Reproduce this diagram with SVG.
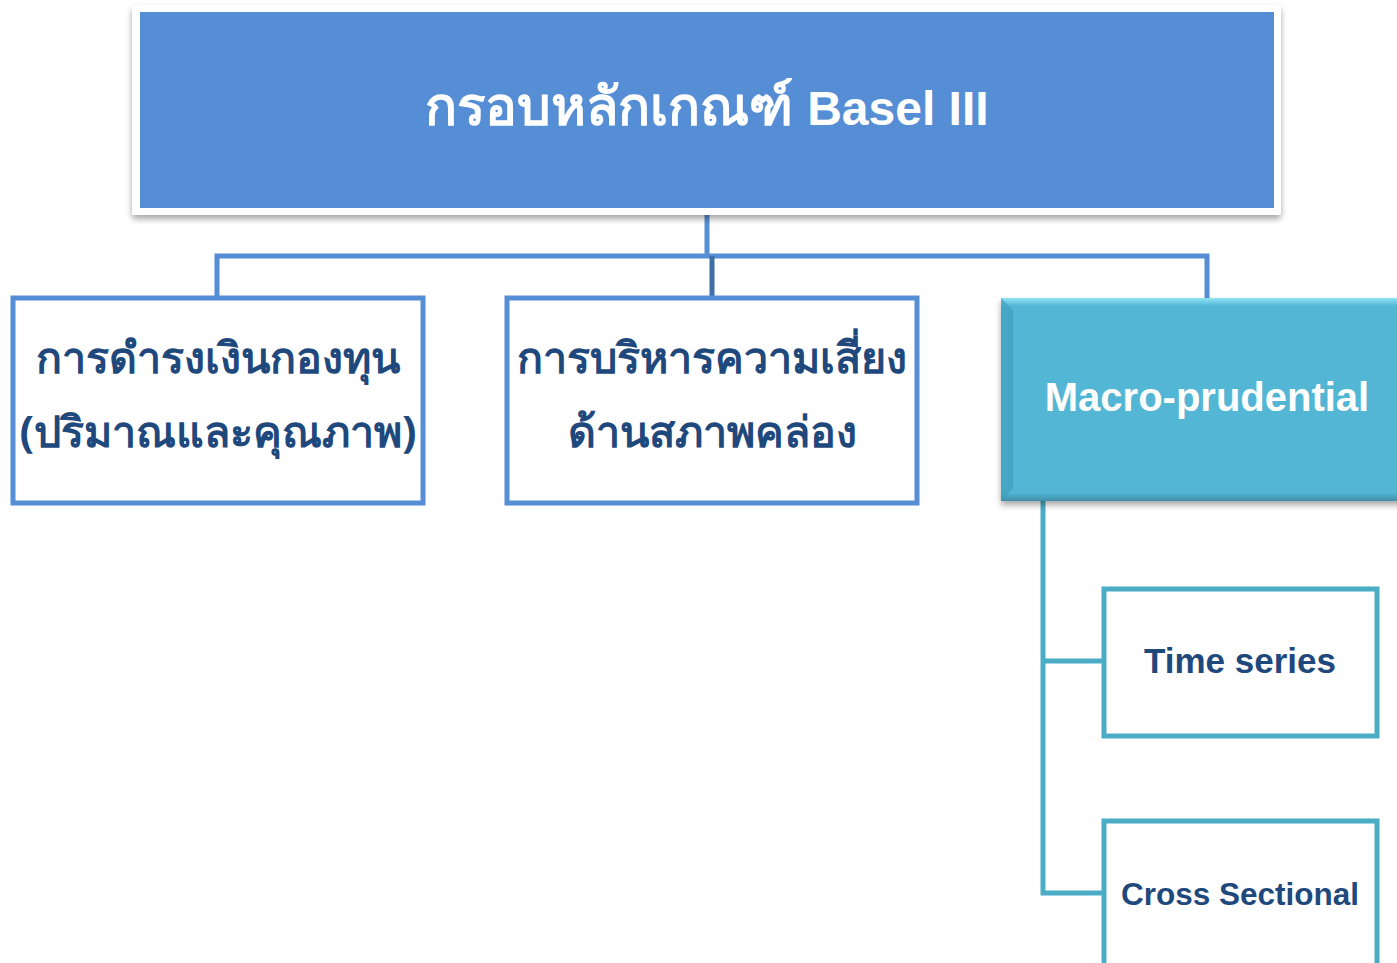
<svg xmlns="http://www.w3.org/2000/svg" width="1397" height="963" viewBox="0 0 1397 963">
<style>
.th{font-family:"Noto Sans","DejaVu Sans",sans-serif;font-weight:bold;text-anchor:middle}
.en{font-family:"Liberation Sans",Arial,sans-serif;font-weight:bold;text-anchor:middle}
.dark{fill:#1F497D}
.bluebox{fill:#fff;stroke:#558ED5;stroke-width:5}
.tealbox{fill:#fff;stroke:#4BACC6;stroke-width:5}
.bl{stroke:#558ED5;stroke-width:5;fill:none}
.tl{stroke:#4BACC6;stroke-width:5;fill:none}
</style>
<defs>
<filter id="sh" x="-5%" y="-10%" width="110%" height="130%">
<feDropShadow dx="0" dy="4" stdDeviation="3" flood-color="#000" flood-opacity="0.35"/>
</filter>
<linearGradient id="bev" x1="0" y1="0" x2="0" y2="1">
<stop offset="0" stop-color="#8FE3F5"/>
<stop offset="0.04" stop-color="#53B6D4"/>
<stop offset="0.96" stop-color="#53B6D4"/>
<stop offset="1" stop-color="#3E8EA6"/>
</linearGradient>
</defs>
<g id="connectors">
<path class="bl" d="M707 212V256M217 298V256H1207V298"/>
<path d="M712 256V298" stroke="#3F6FA8" stroke-width="5"/>
<path class="tl" d="M1043 500V893H1104M1043 661H1104"/>
</g>
<g id="root">
<rect x="132" y="5" width="1149" height="210" rx="3" fill="#fff" filter="url(#sh)"/>
<rect x="140" y="12" width="1134" height="196" fill="#558ED5"/>
<text x="707" y="125" class="th" font-size="53" fill="#fff">กรอบหลักเกณฑ์ <tspan font-family="Liberation Sans, Arial, sans-serif" font-size="48">Basel III</tspan></text>
</g>
<g id="capital">
<rect x="13" y="298" width="410" height="205" class="bluebox"/>
<text x="218" y="373" class="th dark" font-size="43">การดำรงเงินกองทุน</text>
<text x="218" y="447" class="th dark" font-size="43">(ปริมาณและคุณภาพ)</text>
</g>
<g id="liquidity">
<rect x="507" y="298" width="410" height="205" class="bluebox"/>
<text x="712" y="373" class="th dark" font-size="43">การบริหารความเสี่ยง</text>
<text x="712" y="447" class="th dark" font-size="43">ด้านสภาพคล่อง</text>
</g>
<g id="macro">
<rect x="1001" y="298" width="410" height="203" fill="url(#bev)" filter="url(#sh)"/>
<path d="M1001 298L1013 310V489L1001 501Z" fill="#3E9DB9" opacity="0.6"/>
<text x="1207" y="411" class="en" font-size="40" fill="#fff">Macro-prudential</text>
</g>
<g id="timeseries">
<rect x="1104" y="589" width="273" height="147" class="tealbox"/>
<text x="1240" y="673" class="en dark" font-size="35">Time series</text>
</g>
<g id="crosssectional">
<rect x="1104" y="821" width="273" height="160" class="tealbox"/>
<text x="1240" y="905" class="en dark" font-size="31.5">Cross Sectional</text>
</g>
</svg>
